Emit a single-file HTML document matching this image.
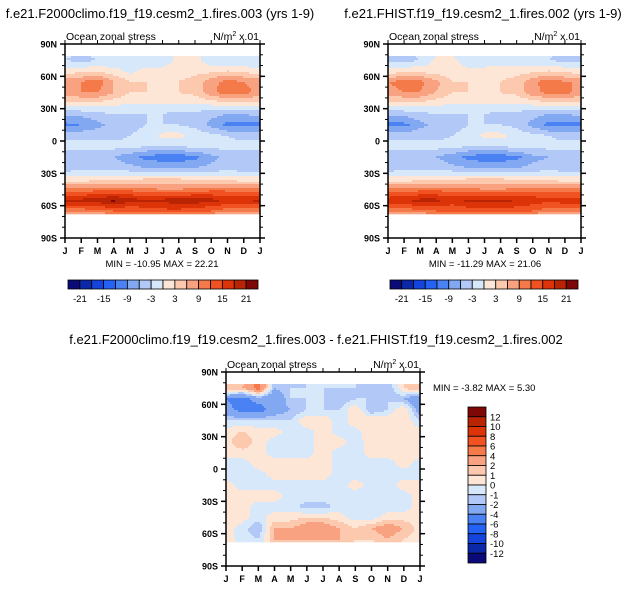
<!DOCTYPE html>
<html><head><meta charset="utf-8">
<style>
html,body{margin:0;padding:0;background:#fff;}
body{width:632px;height:590px;position:relative;overflow:hidden;font-family:"Liberation Sans",Arial,sans-serif;}
svg text{font-family:"Liberation Sans",Arial,sans-serif;fill:#000;}
</style></head>
<body>
<svg id="fig" width="632" height="590" viewBox="0 0 632 590" xmlns="http://www.w3.org/2000/svg"></svg>
<script>
// ---- data ----
const months = ["J","F","M","A","M","J","J","A","S","O","N","D","J"];
const latLabels = ["90N","60N","30N","0","30S","60S","90S"];
const latTicks = [90,60,30,0,-30,-60,-90];
const rowLats = [85,75,65,55,45,35,25,15,5,-5,-15,-25,-35,-45,-55,-65,-75];
const levelsTop = [-21,-18,-15,-12,-9,-6,-3,0,3,6,9,12,15,18,21];
const topBarLabels = ["-21","-15","-9","-3","3","9","15","21"];
const levelsDiff = [-12,-10,-8,-6,-4,-2,-1,0,1,2,4,6,8,10,12];
const diffBarLabels = ["12","10","8","6","4","2","1","0","-1","-2","-4","-6","-8","-10","-12"];
const palette = ["#0a0a78","#0a28a8","#1444dc","#2462f4","#4a82f4","#82a8f2","#b2c8f6","#d8e8fb","#fde6d6","#fcc8ae","#f9a282","#f57a4a","#f05222","#dc3408","#b82404","#7e0808"];

const fieldA = [
[-2,-2,-2,-2,-2,-2,-1,1,1,-2,-2,-2],
[-3,-4,-3,-2,-2,-2,-2,1,1,-2,-3,-3],
[1,2,2,1,-1,1,1,2,2,2,3,2],
[8,9,11,6,3,3,3,3,4,8,10,9],
[8,9,9,6,3,3,2,3,4,8,11,10],
[2,2,2,1,0,0,0,0,0,1,2,2],
[-5,-5,-4,-3,-3,-3,-3,-4,-4,-5,-6,-6],
[-10,-9,-7,-5,-4,-3,-3,-3,-4,-7,-10,-10],
[-4,-4,-4,-4,-3,-2,1,1,-1,-2,-3,-4],
[-2,-2,-2,-2,-2,-3,-3,-3,-2,-2,-2,-2],
[-5,-5,-5,-6,-8,-10,-11,-11,-10,-7,-5,-5],
[-5,-4,-4,-4,-5,-6,-6,-6,-6,-5,-4,-5],
[1,1,1,1,2,3,3,3,2,1,1,1],
[10,10,11,11,11,10,9,9,10,11,11,10],
[19,19,20,22,19,19,19,20,20,19,18,18],
[10,10,11,12,12,13,14,14,13,12,10,10],
[-2,-2,-2,-2,-2,-2,-2,-2,-2,-2,-2,-2]];
const fieldB = [
[-4,-3,-2,-2,-2,-2,-1,-1,-1,-2,-2,-4],
[-4,-4,-3,1,1,-2,-2,-2,-2,-2,-3,-4],
[1,2,2,1,1,1,1,2,2,2,3,2],
[9,10,10,7,3,3,3,3,4,8,11,9],
[8,9,9,6,3,3,2,3,4,8,10,10],
[2,2,2,1,0,0,0,0,0,1,2,2],
[-5,-5,-4,-3,-3,-3,-3,-4,-4,-5,-6,-6],
[-10,-10,-7,-5,-4,-3,-3,-3,-4,-7,-10,-10],
[-4,-4,-4,-4,-3,-2,1,1,-1,-2,-3,-4],
[-2,-2,-2,-2,-2,-3,-3,-3,-2,-2,-2,-2],
[-5,-5,-5,-6,-8,-10,-11,-11,-10,-7,-6,-6],
[-5,-4,-4,-4,-5,-6,-6,-6,-6,-5,-4,-5],
[1,1,1,1,2,3,3,3,2,1,1,1],
[10,10,11,11,11,10,9,9,10,11,11,10],
[17,18,19,19,17,19,19,19,18,17,16,17],
[10,10,11,12,12,13,14,14,13,12,10,10],
[-2,-2,-2,-2,-2,-2,-2,-2,-2,-2,-2,-2]];
const fieldDiff = [
[2,1,4,-1,-2,-1,-1,-1,-1,-1,-1,1],
[2,2,5,-2,-1,-1,-1,-1,-1,-2,-2,1],
[-4,-5,-3,-4,-1,-1,-1,-2,-1,-1,-1,-2],
[-3,-5,-5,-3,-2,-1,-1,-1,1,-2,-1,1],
[-1,-1,-1,-1,-1,1,1,-1,1,1,1,1],
[0.5,1,0.5,0.5,-0.5,-0.5,0.5,-0.5,-0.5,1,0.5,0.5],
[0.5,2,0.5,-0.5,-0.5,-0.5,0.5,0.5,-0.5,0.5,0.5,0.5],
[0.5,0.5,0.5,-0.5,-0.5,-0.5,0.5,-0.5,-0.5,0.5,0.5,0.5],
[-0.5,-0.5,0.5,0.5,0.5,0.5,0.5,-0.5,-0.5,-0.5,-0.5,0.5],
[-0.5,-0.5,-0.5,0.5,0.5,0.5,0.5,-0.5,-0.5,-0.5,-0.5,-0.5],
[0.5,-0.5,-0.5,-0.5,-0.5,-0.5,-0.5,-0.5,0.5,-0.5,-0.5,0.5],
[0.5,0.5,0.5,0.5,-0.5,-0.5,-0.5,-0.5,-0.5,-0.5,-0.5,-0.5],
[0.5,0.5,-0.5,-0.5,-0.5,-1.5,-1.5,-0.5,-1,-0.5,-0.5,-0.5],
[0.5,0.5,-0.5,0.5,0.5,1,1,0.5,-0.5,-0.5,0.5,0.5],
[0.5,-0.5,-2,2,2,3,3,2,1,2,3,2],
[0.5,-0.5,-1,2,2,2,2,2,1,1,2,1],
[0.5,0.5,0.5,0.5,0.5,0.5,0.5,0.5,0.5,0.5,0.5,0.5]];

// ---- helpers ----
const NS="http://www.w3.org/2000/svg";
const svg=document.getElementById('fig');
function mk(tag,attrs,parent){const e=document.createElementNS(NS,tag);for(const k in attrs)e.setAttribute(k,attrs[k]);(parent||svg).appendChild(e);return e;}
function txt(x,y,s,size,anchor,name,parent){const t=mk('text',{x:x,y:y,'font-size':size,'text-anchor':anchor||'start'},parent);t.textContent=s;


return t;}
function colorFor(v,levels){let i=0;while(i<levels.length&&v>=levels[i])i++;return palette[i];}
function sample(field,mon,lat){
  let r=(rowLats[0]-lat)/10; r=Math.max(0,Math.min(rowLats.length-1.0001,r));
  const r0=Math.floor(r),fr=r-r0;
  const m0=Math.floor(mon)%12,m1=(m0+1)%12,fm=mon-Math.floor(mon);
  const a=field[r0][m0]*(1-fm)+field[r0][m1]*fm;
  const b=field[r0+1][m0]*(1-fm)+field[r0+1][m1]*fm;
  return a*(1-fr)+b*fr;
}

function panel(px,py,w,h,field,levels,name,maskN,maskS){
  const g=mk('g',{});
  
  
  const xs=m=>px+m*w/12, ys=lat=>py+(90-lat)*h/180;
  const step=2;
  for(let yy=0;yy<h;yy+=step){
    const lat=90-(yy+step/2)*180/h;
    if(lat>maskN||lat<maskS)continue;
    let runStart=0,runCol=null;
    const flush=(end)=>{
      const r=mk('rect',{x:px+runStart,y:py+yy,width:end-runStart+0.3,height:step+0.3,fill:runCol},g);
      
      
    };
    for(let xx=0;xx<w;xx+=step){
      const mon=Math.min(11.999,(xx+step/2)*12/w);
      const col=colorFor(sample(field,mon,lat),levels);
      if(col!==runCol){
        if(runCol!==null)flush(xx);
        runStart=xx;runCol=col;
      }
    }
    if(runCol!==null)flush(w);
  }
  const fr=mk('rect',{x:px,y:py,width:w,height:h,fill:'none',stroke:'#000','stroke-width':1.5},g);
  
  
  for(let lat=-80;lat<=80;lat+=10){
    mk('line',{x1:px-3,x2:px,y1:ys(lat),y2:ys(lat),stroke:'#000','stroke-width':1},g);
    mk('line',{x1:px+w,x2:px+w+3,y1:ys(lat),y2:ys(lat),stroke:'#000','stroke-width':1},g);
  }
  latTicks.forEach((lat,i)=>{
    mk('line',{x1:px-5,x2:px,y1:ys(lat),y2:ys(lat),stroke:'#000','stroke-width':1.5},g);
    mk('line',{x1:px+w,x2:px+w+5,y1:ys(lat),y2:ys(lat),stroke:'#000','stroke-width':1.5},g);
    txt(px-8,ys(lat)+3.5,latLabels[i],9,'end','lat-label',g).setAttribute('font-weight','bold');
  });
  months.forEach((m,i)=>{
    mk('line',{x1:xs(i),x2:xs(i),y1:py+h,y2:py+h+5,stroke:'#000','stroke-width':1.5},g);
    mk('line',{x1:xs(i),x2:xs(i),y1:py-4,y2:py,stroke:'#000','stroke-width':1},g);
    txt(xs(i),py+h+16,m,9,'middle','month-label',g).setAttribute('font-weight','bold');
  });
  txt(px+1,py-4,'Ocean zonal stress',10.5,'start','subtitle-left',g);
  const u=txt(px+w-1,py-4,'',10.5,'end','units-label',g);
  u.innerHTML='N/m<tspan font-size="7" dy="-4">2</tspan><tspan dy="4"> x.01</tspan>';
  return g;
}

function hbar(x,y,w,h,name,labels){
  const g=mk('g',{});
  
  
  const bw=w/palette.length;
  palette.forEach((c,i)=>{const r=mk('rect',{x:x+i*bw,y:y,width:bw,height:h,fill:c,stroke:'#000','stroke-width':0.8},g);
    });
  labels.forEach((l,j)=>{txt(x+(2*j+1)*bw,y+h+13,l,9.5,'middle','colorbar-label',g);});
}

txt(160,18,'f.e21.F2000climo.f19_f19.cesm2_1.fires.003 (yrs 1-9)',13,'middle','title-left');
txt(483,18,'f.e21.FHIST.f19_f19.cesm2_1.fires.002 (yrs 1-9)',13,'middle','title-right');
txt(316,344,'f.e21.F2000climo.f19_f19.cesm2_1.fires.003 - f.e21.FHIST.f19_f19.cesm2_1.fires.002',13,'middle','title-diff');

panel(65,44,195,194,fieldA,levelsTop,'panel-f2000',78.5,-67);
panel(388,44,193,194,fieldB,levelsTop,'panel-fhist',78.5,-67);
panel(226,372,194,194,fieldDiff,levelsDiff,'panel-diff',78.5,-67);

txt(162,267,'MIN = -10.95 MAX =  22.21',9.5,'middle','minmax-left');
txt(485,267,'MIN = -11.29 MAX =  21.06',9.5,'middle','minmax-right');
txt(433,391,'MIN =  -3.82 MAX =   5.30',9.5,'start','minmax-diff');

hbar(68,280,190,9,'colorbar-left',topBarLabels);
hbar(390,280,188,9,'colorbar-right',topBarLabels);

(function(){
  const g=mk('g',{});
  
  
  const x=468,y=407,w=18,H=156,bh=H/palette.length;
  for(let i=0;i<palette.length;i++){
    const r=mk('rect',{x:x,y:y+i*bh,width:w,height:bh,fill:palette[palette.length-1-i],stroke:'#000','stroke-width':0.8},g);
    
  }
  diffBarLabels.forEach((l,j)=>{txt(x+w+4,y+(j+1)*bh+3.5,l,9.5,'start','colorbar-label',g);});
})();
</script>
</body></html>
